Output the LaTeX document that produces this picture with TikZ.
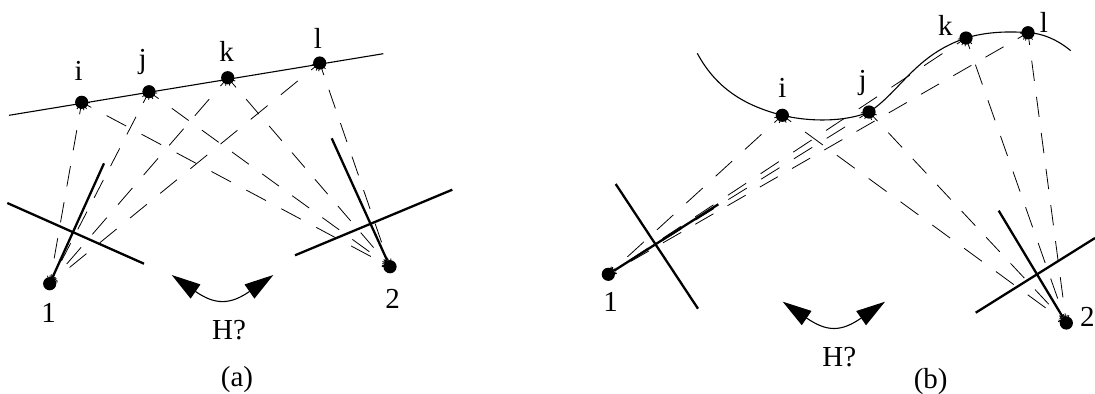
\documentclass[tikz,border=0pt]{standalone}
\usepackage{fontspec}
\setmainfont{Liberation Serif}
\usetikzlibrary{arrows.meta,backgrounds}

\tikzset{
  pointdot/.style={circle,fill=black,inner sep=0pt,minimum size=6.6pt},
  tag/.style={inner sep=0pt,font=\fontsize{14.5}{16}\selectfont},
  ray/.style={line width=0.4pt,{Straight Barb[length=3.3pt,width=3.6pt]}-{Straight Barb[length=3.3pt,width=3.6pt]}},
  dashfit/.code={\pgfmathsetmacro\dashon{0.56*#1}\pgfmathsetmacro\dashoff{0.44*#1}\pgfmathsetmacro\dashskip{#1-13.5}\tikzset{dash pattern=on \dashon pt off \dashoff pt,dash phase=\dashskip pt}},
  scenecurve/.style={line width=0.55pt},
  imageplane/.style={line width=1.15pt},
  swing/.style={line width=0.55pt,{Triangle[length=14.5pt,width=8.5pt]}-{Triangle[length=14.5pt,width=8.5pt]}}
}

\begin{document}
\begin{tikzpicture}[x=0.5pt,y=-0.5pt]
    \useasboundingbox (0,0) rectangle (1095,393);

    % left view
    \coordinate (aStart) at (9,115.3);
    \coordinate (aEnd) at (383.3,53.7);
    \node[pointdot] (ai) at (81.7,102.3) {};
    \node[pointdot] (aj) at (149,91.7) {};
    \node[pointdot] (ak) at (227.7,77.7) {};
    \node[pointdot] (al) at (319.7,63) {};
    \node[pointdot] (acamA) at (49.7,283.7) {};
    \node[pointdot] (acamB) at (390,266.7) {};
    \draw[scenecurve] (aStart) -- (aEnd);
    \begin{scope}[on background layer]
    \foreach \p/\c/\f in {ai/acamA/18.3,aj/acamA/17.8,ak/acamA/19.6,al/acamA/19.5,
                          ai/acamB/19.8,aj/acamB/18.6,ak/acamB/17.6,al/acamB/17.7} {
        \draw[ray,dashfit=\f] (\p.center) -- (\c.center);
    }
    \end{scope}
    \coordinate (aPlaneAa) at (7.3,203);
    \coordinate (aPlaneAb) at (144,263.7);
    \coordinate (aPlaneBa) at (295,255.3);
    \coordinate (aPlaneBb) at (452.3,189.7);
    \coordinate (aAxisA) at (104,163.3);
    \coordinate (aAxisB) at (331.7,138.3);
    \draw[imageplane] (aPlaneAa) -- (aPlaneAb);
    \draw[imageplane] (aPlaneBa) -- (aPlaneBb);
    \draw[imageplane] (aAxisA) -- (acamA);
    \draw[imageplane] (aAxisB) -- (acamB);
    \coordinate (aSwingA) at (171.7,275);
    \coordinate (aSwingB) at (273.3,275);
    \draw[swing] (aSwingA) .. controls (215,305) and (230,305) .. (aSwingB);
    \node[tag] (ati) at (78.7,70.7) {i};
    \node[tag] (atj) at (142.7,61.7) {j};
    \node[tag] (atk) at (226.7,51.7) {k};
    \node[tag] (atl) at (318,38) {l};
    \node[tag] (atA) at (48.7,313) {1};
    \node[tag] (atB) at (392.7,299) {2};
    \node[tag] (atH) at (229,330) {H?};
    \node[tag] (atcap) at (237,380) {(a)};

    % right view
    \coordinate (bStart) at (697.3,53.3);
    \coordinate (bEnd) at (1070.7,50.7);
    \node[pointdot] (bi) at (782.3,115.3) {};
    \node[pointdot] (bj) at (869,112) {};
    \node[pointdot] (bk) at (966,38) {};
    \node[pointdot] (bl) at (1028,32.7) {};
    \node[pointdot] (bcamA) at (608.3,274.3) {};
    \node[pointdot] (bcamB) at (1066.3,323) {};
    \draw[scenecurve] (bStart) .. controls (718,92) and (750,107) .. (bi.center)
        .. controls (810,122) and (845,122) .. (bj.center)
        .. controls (900,92) and (915,55) .. (bk.center)
        .. controls (985,32) and (1008,31) .. (bl.center)
        .. controls (1042,33) and (1058,40) .. (bEnd);
    \begin{scope}[on background layer]
    \foreach \p/\c/\f in {bi/bcamA/19.9,bj/bcamA/19.3,bk/bcamA/19.6,bl/bcamA/18.6,
                          bi/bcamB/19.7,bj/bcamB/17.9,bk/bcamB/18.9,bl/bcamB/18.2} {
        \draw[ray,dashfit=\f] (\p.center) -- (\c.center);
    }
    \end{scope}
    \coordinate (bPlaneAa) at (615.7,184);
    \coordinate (bPlaneAb) at (698,308.7);
    \coordinate (bPlaneBa) at (975.7,312.7);
    \coordinate (bPlaneBb) at (1095,238);
    \coordinate (bAxisA) at (718.3,204.3);
    \coordinate (bAxisB) at (998.7,210.7);
    \draw[imageplane] (bPlaneAa) -- (bPlaneAb);
    \draw[imageplane] (bPlaneBa) -- (bPlaneBb);
    \draw[imageplane] (bAxisA) -- (bcamA);
    \draw[imageplane] (bAxisB) -- (bcamB);
    \coordinate (bSwingA) at (782.7,301.7);
    \coordinate (bSwingB) at (885,301.7);
    \draw[swing] (bSwingA) .. controls (827,332) and (841,332) .. (bSwingB);
    \node[tag] (bti) at (782.3,88) {i};
    \node[tag] (btj) at (862.7,83) {j};
    \node[tag] (btk) at (945.3,25) {k};
    \node[tag] (btl) at (1044,22.7) {l};
    \node[tag] (btA) at (610.7,301.7) {1};
    \node[tag] (btB) at (1087.3,316.7) {2};
    \node[tag] (btH) at (839.3,356.7) {H?};
    \node[tag] (btcap) at (930.7,381.7) {(b)};
\end{tikzpicture}
\end{document}
